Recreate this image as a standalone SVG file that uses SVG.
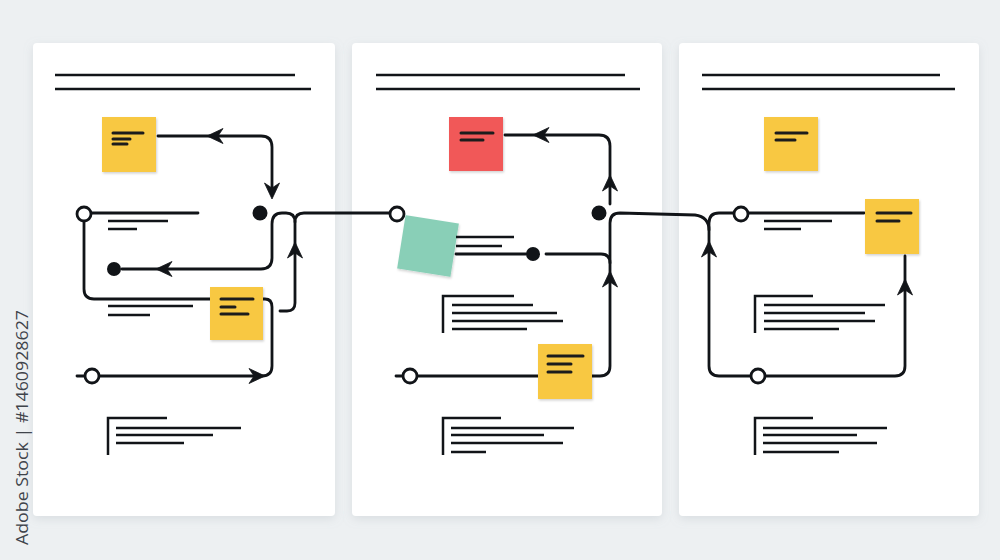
<svg xmlns="http://www.w3.org/2000/svg" width="1000" height="560" viewBox="0 0 1000 560">
<defs>
<filter id="shadow" x="-10%" y="-10%" width="120%" height="120%">
<feDropShadow dx="0" dy="3" stdDeviation="5" flood-color="#9aa4ad" flood-opacity="0.25"/>
</filter>
<filter id="nshadow" x="-20%" y="-20%" width="140%" height="140%">
<feDropShadow dx="1" dy="1.5" stdDeviation="1.2" flood-color="#000" flood-opacity="0.18"/>
</filter>
<path id="arr" d="M1,0 L-15,-7.5 L-10,0 L-15,7.5 Z"/>
<style>
.card{fill:#ffffff;filter:url(#shadow)}
.ln{stroke:#111418;stroke-width:2.8;fill:none;stroke-linecap:round;stroke-linejoin:round}
.tl{stroke:#111418;stroke-width:2.5;fill:none;stroke-linecap:butt}
.nl{stroke:#1c1c1c;stroke-width:3;fill:none;stroke-linecap:round}
.yel{fill:#f8c843;filter:url(#nshadow)}
.red{fill:#f15858;filter:url(#nshadow)}
.grn{fill:#89cfb7;filter:url(#nshadow)}
.oc{fill:#ffffff;stroke:#111418;stroke-width:2.8}
.dot{fill:#111418}
.ah{fill:#111418;stroke:#111418;stroke-width:0.8;stroke-linejoin:round}
.id{font-family:"Open Sans","Liberation Sans",sans-serif;font-size:17px;fill:#3e434a}
</style>
</defs>
<rect x="0" y="0" width="1000" height="560" fill="#edf0f2"/>
<text class="id" transform="translate(28,545) rotate(-90)" textLength="235" lengthAdjust="spacingAndGlyphs">Adobe Stock | #1460928627</text>

<g id="card1"><rect class="card" x="33" y="43" width="302" height="473" rx="4"/>
<path class="tl" d="M55,75 H295 M55,89 H311"/></g>
<g id="card2"><rect class="card" x="352" y="43" width="310" height="473" rx="4"/>
<path class="tl" d="M376,75 H625 M376,89 H640"/></g>
<g id="card3"><rect class="card" x="679" y="43" width="300" height="473" rx="4"/>
<path class="tl" d="M702,75 H940 M702,89 H955"/></g>

<g id="connectors">
<path class="ln" d="M158,136 H261 Q272,136 272,147 V192"/>
<path class="ln" d="M122,269 H261 Q272,269 272,258 V224 Q272,213 282,213 H286 Q295,213 295,222"/>
<path class="ln" d="M280,311 H287 Q295,311 295,303 V222 Q295,213 304,213 H390"/>
<path class="ln" d="M84,221 V289 Q84,299 94,299 H210"/>
<path class="ln" d="M91,213 H198"/>
<path class="ln" d="M263,299 H265 Q272,299 272,307 V366 Q272,376 262,376 H100"/>
<path class="ln" d="M77,376 H85"/>
<path class="ln" d="M505,135 H599 Q610,135 610,146 V204"/>
<path class="ln" d="M546,254 H601 Q610,254 610,263"/>
<path class="ln" d="M592,376 H600 Q610,376 610,366 V223 Q610,213 620,213 L695,215 Q709,217 709,230"/>
<path class="ln" d="M456,254 H526"/>
<path class="ln" d="M404,376 H538 M396,376 H403"/>
<path class="ln" d="M751,376 H895 Q905,376 905,366 V256"/>
<path class="ln" d="M751,376 H719 Q709,376 709,366 V223 Q709,213 719,213 H734"/>
<path class="ln" d="M748,213 H864"/>
<use href="#arr" class="ah" transform="translate(208,136) rotate(180)"/>
<use href="#arr" class="ah" transform="translate(272,198) rotate(90)"/>
<use href="#arr" class="ah" transform="translate(157,269) rotate(180)"/>
<use href="#arr" class="ah" transform="translate(295,243) rotate(-90)"/>
<use href="#arr" class="ah" transform="translate(264,376)"/>
<use href="#arr" class="ah" transform="translate(534,135) rotate(180)"/>
<use href="#arr" class="ah" transform="translate(610,176) rotate(-90)"/>
<use href="#arr" class="ah" transform="translate(610,272) rotate(-90)"/>
<use href="#arr" class="ah" transform="translate(709,242) rotate(-90)"/>
<use href="#arr" class="ah" transform="translate(905,280) rotate(-90)"/>
</g>

<g id="c1-sticky-top"><rect class="yel" x="102" y="117" width="54" height="55"/>
<path class="nl" d="M113,133 H143 M113,139 H130 M113,144 H127"/></g>
<g id="c1-dot-right"><circle class="dot" cx="260" cy="213" r="7.5"/></g>
<g id="c1-circle-mid"><circle class="oc" cx="84" cy="214" r="7"/>
<path class="tl" d="M108,221 H168 M108,229 H137"/></g>
<g id="c1-dot-left"><circle class="dot" cx="114" cy="269" r="7"/></g>
<g id="c1-lines-mid"><path class="tl" d="M108,306 H193 M108,315 H150"/></g>
<g id="c1-sticky-mid"><rect class="yel" x="210" y="287" width="53" height="53"/>
<path class="nl" d="M221,299 H253 M221,307 H235 M221,314 H248"/></g>
<g id="c1-circle-bottom"><circle class="oc" cx="92" cy="376" r="7"/></g>
<g id="c1-text-block"><path class="tl" d="M108,455 V418 H167 M116,428 H241 M116,435 H213 M116,443 H184"/></g>

<g id="c2-sticky-red"><rect class="red" x="449" y="117" width="54" height="54"/>
<path class="nl" d="M461,133 H493 M461,140 H483"/></g>
<g id="c2-dot-right"><circle class="dot" cx="599" cy="213" r="7.5"/></g>
<g id="c2-circle-mid"><circle class="oc" cx="397" cy="214" r="7"/></g>
<g id="c2-sticky-green"><rect class="grn" x="401" y="219" width="54" height="54" transform="rotate(9 428 246)"/></g>
<g id="c2-lines-green"><path class="tl" d="M456,237 H514 M456,246 H502"/></g>
<g id="c2-dot-mid"><circle class="dot" cx="533" cy="254" r="7"/></g>
<g id="c2-text-mid"><path class="tl" d="M443,333 V296 H514 M452,305 H533 M452,313 H557 M452,321 H563 M452,329 H527"/></g>
<g id="c2-circle-bottom"><circle class="oc" cx="410" cy="376" r="7"/></g>
<g id="c2-sticky-bottom"><rect class="yel" x="538" y="344" width="54" height="55"/>
<path class="nl" d="M548,356 H583 M548,364 H571 M548,372 H571"/></g>
<g id="c2-text-block"><path class="tl" d="M443,455 V418 H501 M451,428 H574 M451,435 H544 M451,443 H563 M451,452 H486"/></g>

<g id="c3-sticky-top"><rect class="yel" x="764" y="117" width="54" height="54"/>
<path class="nl" d="M776,133 H807 M776,140 H795"/></g>
<g id="c3-circle-mid"><circle class="oc" cx="741" cy="214" r="7"/>
<path class="tl" d="M764,221 H832 M764,229 H801"/></g>
<g id="c3-sticky-right"><rect class="yel" x="865" y="199" width="54" height="55"/>
<path class="nl" d="M877,213 H911 M877,221 H899"/></g>
<g id="c3-text-mid"><path class="tl" d="M755,333 V296 H813 M764,305 H885 M764,313 H865 M764,321 H875 M764,329 H839"/></g>
<g id="c3-circle-bottom"><circle class="oc" cx="758" cy="376" r="7"/></g>
<g id="c3-text-block"><path class="tl" d="M755,455 V418 H813 M763,428 H887 M763,435 H857 M763,443 H877 M763,452 H839"/></g>
</svg>
